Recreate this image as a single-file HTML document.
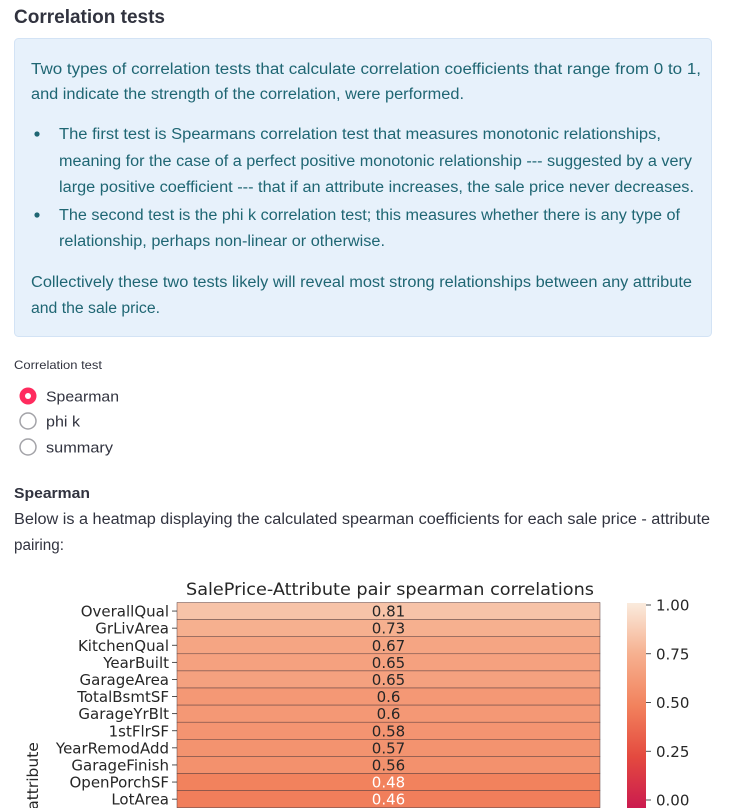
<!DOCTYPE html>
<html><head><meta charset="utf-8"><style>
html,body{margin:0;padding:0;background:#fff;width:733px;height:808px;overflow:hidden}
svg{display:block}
.p{font-family:"Liberation Sans",sans-serif;font-size:15.5px;fill:#1f6673}
.t{font-family:"Liberation Sans",sans-serif;fill:#31333f}
.m{font-family:"DejaVu Sans",sans-serif;fill:#262626}
</style></head><body>
<svg width="733" height="808" xmlns="http://www.w3.org/2000/svg">
<text class="t" x="14" y="23" font-size="19.5" font-weight="bold" textLength="151" lengthAdjust="spacingAndGlyphs">Correlation tests</text>
<g>
<rect x="14.5" y="38.5" width="697" height="298" rx="4" fill="#e7f1fb" stroke="#d3e3f5"/>
<text class="p" x="31" y="74" textLength="670" lengthAdjust="spacingAndGlyphs">Two types of correlation tests that calculate correlation coefficients that range from 0 to 1,</text>
<text class="p" x="31" y="99" textLength="433" lengthAdjust="spacingAndGlyphs">and indicate the strength of the correlation, were performed.</text>
<circle cx="37" cy="134" r="2.6" fill="#1f6673"/>
<text class="p" x="59" y="139" textLength="602" lengthAdjust="spacingAndGlyphs">The first test is Spearmans correlation test that measures monotonic relationships,</text>
<text class="p" x="59" y="166" textLength="633" lengthAdjust="spacingAndGlyphs">meaning for the case of a perfect positive monotonic relationship --- suggested by a very</text>
<text class="p" x="59" y="192" textLength="635" lengthAdjust="spacingAndGlyphs">large positive coefficient --- that if an attribute increases, the sale price never decreases.</text>
<circle cx="37" cy="215" r="2.6" fill="#1f6673"/>
<text class="p" x="59" y="220" textLength="621" lengthAdjust="spacingAndGlyphs">The second test is the phi k correlation test; this measures whether there is any type of</text>
<text class="p" x="59" y="246" textLength="326" lengthAdjust="spacingAndGlyphs">relationship, perhaps non-linear or otherwise.</text>
<text class="p" x="31" y="287" textLength="661" lengthAdjust="spacingAndGlyphs">Collectively these two tests likely will reveal most strong relationships between any attribute</text>
<text class="p" x="31" y="313" textLength="129" lengthAdjust="spacingAndGlyphs">and the sale price.</text>
</g>
<text class="t" x="14" y="369" font-size="12" textLength="88" lengthAdjust="spacingAndGlyphs">Correlation test</text>
<g>
<circle cx="28" cy="396" r="8.5" fill="#ff2b5e"/><circle cx="28" cy="396" r="3" fill="#fff"/>
<text class="t" x="46" y="401.5" font-size="15" textLength="73" lengthAdjust="spacingAndGlyphs">Spearman</text></g>
<g>
<circle cx="28" cy="421" r="8" fill="#fff" stroke="#a3a3a8" stroke-width="1.5"/>
<text class="t" x="46" y="426.5" font-size="15" textLength="34" lengthAdjust="spacingAndGlyphs">phi k</text></g>
<g>
<circle cx="28" cy="447" r="8" fill="#fff" stroke="#a3a3a8" stroke-width="1.5"/>
<text class="t" x="46" y="452.5" font-size="15" textLength="67" lengthAdjust="spacingAndGlyphs">summary</text></g>
<text class="t" x="14" y="498" font-size="14.5" font-weight="bold" textLength="76" lengthAdjust="spacingAndGlyphs">Spearman</text>
<text class="t" x="14" y="524" font-size="15.5" textLength="696" lengthAdjust="spacingAndGlyphs">Below is a heatmap displaying the calculated spearman coefficients for each sale price - attribute</text>
<text class="t" x="14" y="550" font-size="15.5" textLength="50" lengthAdjust="spacingAndGlyphs">pairing:</text>
<g id="chart">
<text class="m" x="390" y="595" font-size="17" text-anchor="middle" textLength="408" lengthAdjust="spacingAndGlyphs">SalePrice-Attribute pair spearman correlations</text>
<text class="m" transform="translate(38,776) rotate(-90)" font-size="15.5" text-anchor="middle">attribute</text>
<defs><linearGradient id="cb" x1="0" y1="1" x2="0" y2="0">
<stop offset="0" stop-color="#cb1b4f"/><stop offset="0.25" stop-color="#e44a3f"/><stop offset="0.5" stop-color="#f2825d"/><stop offset="0.75" stop-color="#f6b08f"/><stop offset="1" stop-color="#faebdd"/></linearGradient></defs>
<rect x="627" y="603" width="19" height="205" fill="url(#cb)"/>
</g>
</svg>
<script>
const labels=["OverallQual","GrLivArea","KitchenQual","YearBuilt","GarageArea","TotalBsmtSF","GarageYrBlt","1stFlrSF","YearRemodAdd","GarageFinish","OpenPorchSF","LotArea"];
const values=[0.81,0.73,0.67,0.65,0.65,0.6,0.6,0.58,0.57,0.56,0.48,0.46];
const cbTicks=[0,0.25,0.5,0.75,1];
const NS="http://www.w3.org/2000/svg";
const g=document.getElementById('chart');
const x0=177,x1=600,y0=602.5,rh=17.1;
function yRow(i){return y0+i*rh;}
function yCb(v){return 800-v*195;}
const stops=[[0,[203,27,79]],[0.25,[228,74,63]],[0.5,[242,130,93]],[0.75,[246,176,143]],[1,[250,235,221]]];
function color(v){for(let i=0;i<stops.length-1;i++){const a=stops[i],b=stops[i+1];if(v<=b[0]){const t=(v-a[0])/(b[0]-a[0]);return 'rgb('+a[1].map((c,k)=>Math.round(c+(b[1][k]-c)*t)).join(',')+')';}}return 'rgb(250,235,221)';}
function mk(tag,attrs){const e=document.createElementNS(NS,tag);for(const k in attrs)e.setAttribute(k,attrs[k]);g.appendChild(e);return e;}
values.forEach((v,i)=>{
  const r=mk('rect',{x:x0,y:yRow(i),width:x1-x0,height:rh,fill:color(v+0.02),stroke:'#5a4040','stroke-width':0.5});
  
  
  const t=mk('text',{x:(x0+x1)/2,y:yRow(i)+rh/2+5.5,'text-anchor':'middle','font-size':15,'font-family':'DejaVu Sans, sans-serif',fill:v<0.5?'#ffffff':'#262626'});
  t.textContent=String(v);
  
  
  const l=mk('text',{x:169,y:yRow(i)+rh/2+5.5,'text-anchor':'end','font-size':15,'font-family':'DejaVu Sans, sans-serif',fill:'#262626'});
  l.textContent=labels[i];
  
  
  mk('line',{x1:172,x2:177,y1:yRow(i)+rh/2,y2:yRow(i)+rh/2,stroke:'#262626','stroke-width':0.8});
});
cbTicks.forEach(v=>{
  mk('line',{x1:646,x2:651,y1:yCb(v),y2:yCb(v),stroke:'#262626','stroke-width':0.8});
  const t=mk('text',{x:656,y:yCb(v)+5.5,'font-size':15,'font-family':'DejaVu Sans, sans-serif',fill:'#262626'});
  t.textContent=v.toFixed(2);
  
  
});
</script>
</body></html>
